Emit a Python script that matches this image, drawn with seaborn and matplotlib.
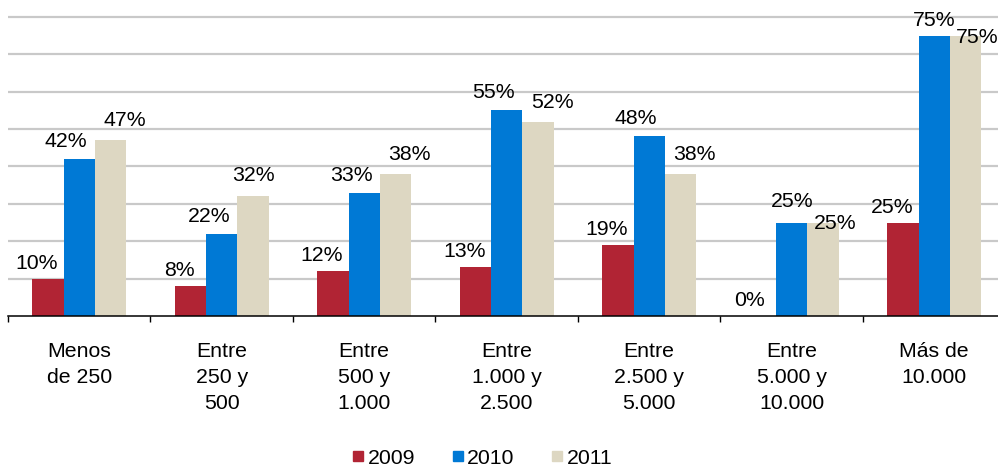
import matplotlib
matplotlib.use("Agg")
import matplotlib.pyplot as plt
from matplotlib.lines import Line2D
import seaborn as sns
import pandas as pd

# datos del grafico
categorias = ["Menos\nde 250", "Entre\n250 y\n500", "Entre\n500 y\n1.000", "Entre\n1.000 y\n2.500",
              "Entre\n2.500 y\n5.000", "Entre\n5.000 y\n10.000", "Más de\n10.000"]
anios = ["2009", "2010", "2011"]
v2009 = [10, 8, 12, 13, 19, 0, 25]
v2010 = [42, 22, 33, 55, 48, 25, 75]
v2011 = [47, 32, 38, 52, 38, 25, 75]
colores = ["#B12434", "#0079D5", "#DDD7C2"]

df = pd.DataFrame({
    "cat": categorias * 3,
    "anio": [a for a in anios for _ in categorias],
    "valor": v2009 + v2010 + v2011,
})

plt.rcParams["font.family"] = ["Liberation Sans", "DejaVu Sans"]
FS = 15.3

fig = plt.figure(figsize=(9.98, 4.70), dpi=100)
ax = fig.add_axes([8 / 998, 1 - 316 / 470, 997.5 / 998, 316 / 470])

sns.barplot(data=df, x="cat", y="valor", hue="anio", palette=colores, width=0.663,
            gap=0, linewidth=0, saturation=1, legend=False, ax=ax, errorbar=None)

ax.set_xlim(-0.5, 6.5)
ax.set_ylim(0, 84.5)
ax.set_yticks(range(10, 90, 10))
ax.set_yticklabels([])
ax.tick_params(axis="y", length=0)
ax.yaxis.grid(True, color="#C9C9C9", lw=1.6)
ax.set_axisbelow(True)
for s in ["left", "right", "top"]:
    ax.spines[s].set_visible(False)
ax.spines["bottom"].set_linewidth(1.1)
ax.spines["bottom"].set_color("black")
ax.set_xlabel("")
ax.set_ylabel("")

ax.set_xticks(range(len(categorias)))
ax.set_xticklabels(categorias, fontsize=FS, linespacing=1.45)
ax.set_xticks([i - 0.5 for i in range(len(categorias) + 1)], minor=True)
ax.tick_params(axis="x", which="major", length=0, pad=19)
ax.tick_params(axis="x", which="minor", length=4.5, width=1.0, color="black", direction="out")

# posicion de las etiquetas (pixeles) por serie, con algunos ajustes
desplaz = [(-11, 10), (-13, 12), (14, 14)]
ajustes = {(1, 2): (0, 15), (5, 1): (0, 16), (5, 2): (12, -6),
           (6, 1): (0, 10), (6, 2): (11, -7)}
for s, cont in enumerate(ax.containers):
    for i, bar in enumerate(cont):
        dx, dy = ajustes.get((i, s), desplaz[s])
        x = bar.get_x() + bar.get_width() / 2
        h = bar.get_height()
        ax.annotate(f"{h:.0f}%", (x, h), xytext=(dx, dy), textcoords="offset pixels",
                    ha="center", va="baseline", fontsize=FS, color="black",
                    annotation_clip=False)

handles = [Line2D([], [], marker="s", linestyle="", markersize=7.2, color=c) for c in colores]
fig.legend(handles, anios, loc="center", bbox_to_anchor=(482.5 / 998, 1 - 458 / 470),
           ncol=3, frameon=False, fontsize=FS, handlelength=0.5, handletextpad=0.2,
           columnspacing=1.75, borderpad=0)

fig.savefig("out.png", dpi=100)
